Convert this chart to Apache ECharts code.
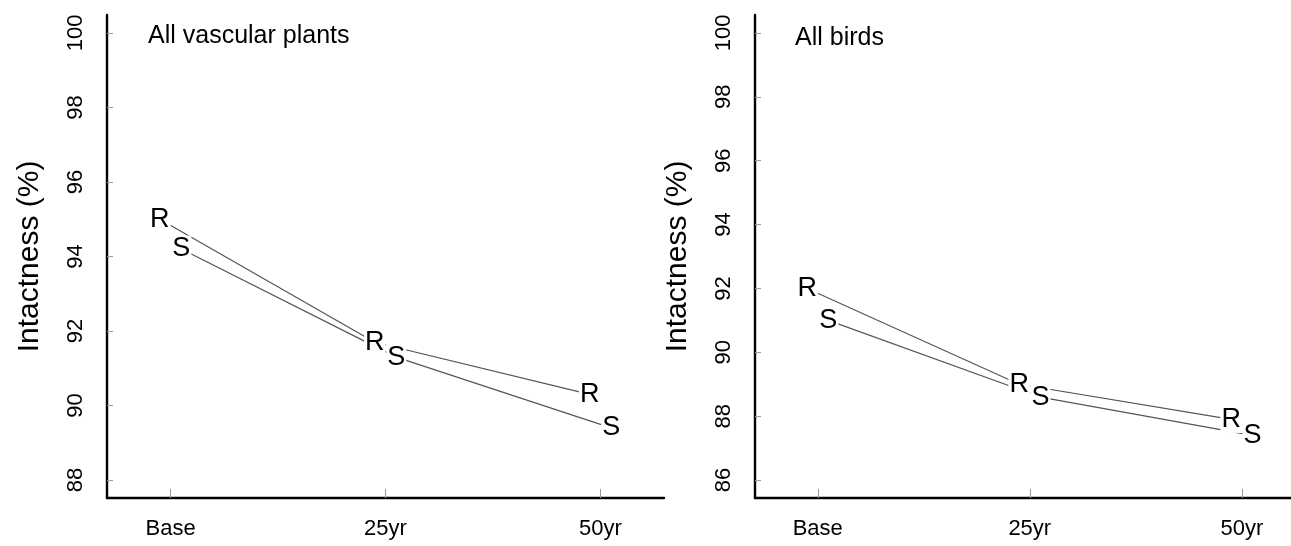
<!DOCTYPE html>
<html>
<head>
<meta charset="utf-8">
<script src="https://cdn.jsdelivr.net/npm/echarts@6/dist/echarts.min.js"></script>
<style>
html,body{margin:0;padding:0;background:#fff;}
#c{width:1291px;height:546px;}
</style>
</head>
<body>
<div id="c"></div>
<script>
// ---- data ----
var categories = ['Base', '25yr', '50yr'];
var plantsR = [95.0, 91.7, 90.3];
var plantsS = [94.2, 91.3, 89.4];
var birdsR = [92.0, 89.0, 87.9];
var birdsS = [91.0, 88.6, 87.4];
var plantsTicks = [88, 90, 92, 94, 96, 98, 100];
var birdsTicks = [86, 88, 90, 92, 94, 96, 98, 100];
var panelTitles = ['All vascular plants', 'All birds'];
var yName = 'Intactness (%)';
var seriesNames = ['R', 'S'];

var FONT = '"Liberation Sans", Arial, sans-serif';
var xPos = [1, 2, 3];
var jitter = [-0.05, 0.05];

function pts(vals, j) {
  return vals.map(function (v, i) { return [xPos[i] + j, v]; });
}

function xAxis(gi, mx) {
  return {
    type: 'value', gridIndex: gi, min: 0.704, max: mx,
    splitLine: { show: false },
    axisLine: { show: true, lineStyle: { color: '#000', width: 2.4 } },
    axisTick: { show: true, inside: true, length: 9, customValues: xPos, lineStyle: { color: '#999', width: 1 } },
    axisLabel: {
      customValues: xPos, margin: 20, color: '#000', fontSize: 22, fontFamily: FONT,
      formatter: function (v) { return categories[Math.round(v) - 1]; }
    }
  };
}
function yAxis(gi, mn, mx, ticks) {
  return {
    type: 'value', gridIndex: gi, min: mn, max: mx,
    name: yName, nameLocation: 'middle', nameGap: 62, nameRotate: 90,
    nameTextStyle: { fontSize: 30, color: '#000', fontFamily: FONT },
    splitLine: { show: false },
    axisLine: { show: true, lineStyle: { color: '#000', width: 2.4 } },
    axisTick: { show: true, inside: true, length: 6, customValues: ticks, lineStyle: { color: '#999', width: 1 } },
    axisLabel: { customValues: ticks, rotate: 90, margin: 20, color: '#000', fontSize: 22, fontFamily: FONT }
  };
}
function lineSeries(gi, vals, j) {
  return {
    type: 'line', xAxisIndex: gi, yAxisIndex: gi, data: pts(vals, j),
    symbol: 'none', z: 2, silent: true,
    lineStyle: { color: '#555', width: 1.2 }
  };
}
function letterSeries(gi, vals, j, letter) {
  return {
    type: 'scatter', xAxisIndex: gi, yAxisIndex: gi, data: pts(vals, j),
    symbolSize: 0, itemStyle: { color: '#000', opacity: 1 }, z: 5, silent: true,
    label: {
      show: true, position: 'inside', formatter: letter, opacity: 1,
      fontSize: 27, color: '#000', fontFamily: FONT,
      textBorderWidth: 0,
      backgroundColor: '#fff', padding: [0, 1]
    }
  };
}

var chart = echarts.init(document.getElementById('c'));
chart.setOption({
  animation: false,
  backgroundColor: '#fff',
  title: [
    { text: panelTitles[0], left: 148, top: 24, padding: 0, textStyle: { fontSize: 25, fontWeight: 'normal', color: '#000', fontFamily: FONT } },
    { text: panelTitles[1], left: 795, top: 26, padding: 0, textStyle: { fontSize: 25, fontWeight: 'normal', color: '#000', fontFamily: FONT } }
  ],
  grid: [
    { left: 107, top: 15, width: 557, height: 483 },
    { left: 755, top: 15, width: 536, height: 483 }
  ],
  xAxis: [xAxis(0, 3.296), xAxis(1, 3.232)],
  yAxis: [yAxis(0, 87.52, 100.48, plantsTicks), yAxis(1, 85.44, 100.56, birdsTicks)],
  series: [
    lineSeries(0, plantsR, jitter[0]),
    lineSeries(0, plantsS, jitter[1]),
    lineSeries(1, birdsR, jitter[0]),
    lineSeries(1, birdsS, jitter[1]),
    letterSeries(0, plantsR, jitter[0], seriesNames[0]),
    letterSeries(0, plantsS, jitter[1], seriesNames[1]),
    letterSeries(1, birdsR, jitter[0], seriesNames[0]),
    letterSeries(1, birdsS, jitter[1], seriesNames[1])
  ]
});
</script>
</body>
</html>
